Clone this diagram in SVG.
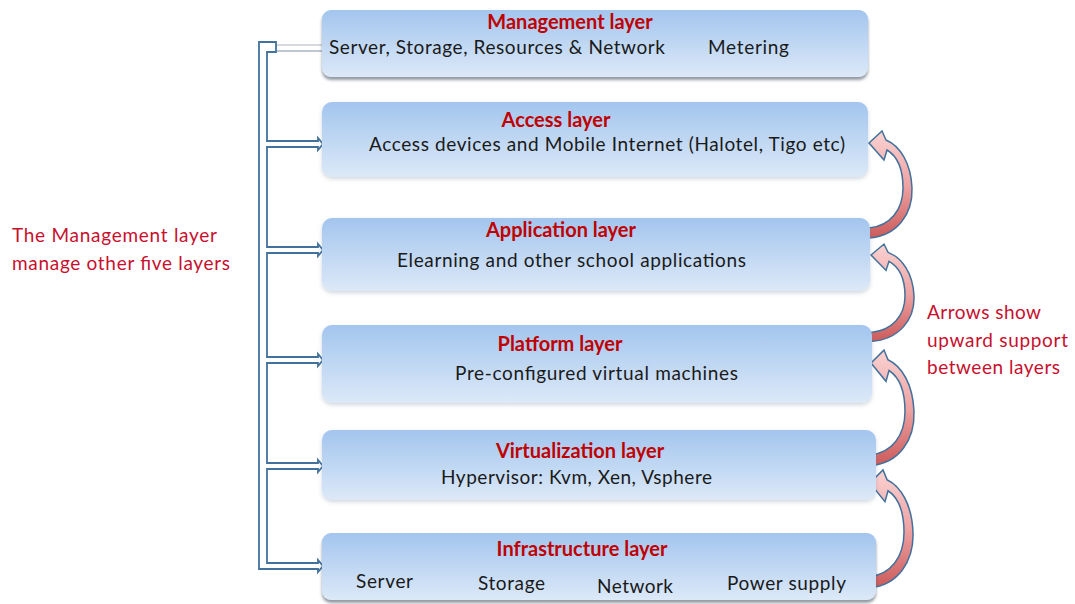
<svg xmlns="http://www.w3.org/2000/svg" width="1075" height="604" viewBox="0 0 1075 604">
<defs>
<linearGradient id="boxg" x1="0" y1="0" x2="0" y2="1">
<stop offset="0" stop-color="#a3c5ee"/>
<stop offset="1" stop-color="#dce9f8"/>
</linearGradient>
<linearGradient id="arrg" x1="0" y1="0" x2="0" y2="1">
<stop offset="0" stop-color="#fbd2d2"/>
<stop offset="0.5" stop-color="#eea3a3"/>
<stop offset="1" stop-color="#cc5a5a"/>
</linearGradient>
<filter id="sh" x="-5%" y="-10%" width="110%" height="130%">
<feDropShadow dx="0" dy="2" stdDeviation="2" flood-color="#6a7a90" flood-opacity="0.3"/>
</filter>
<filter id="sh2" x="-5%" y="-10%" width="110%" height="130%">
<feDropShadow dx="0" dy="3" stdDeviation="1.5" flood-color="#4a5566" flood-opacity="0.6"/>
</filter>
<path id="curv" d="M 0 95 C 28 93, 44 71, 43 45 C 42 20, 31 3, 17 -3 L 13 -12 L 0 0 L 15 17 L 18 7 C 28 13, 34 25, 34 45 C 34 67, 21 83, 0 85 Z"/>
</defs>
<style>
.box{fill:url(#boxg);}
.t{font-family:Lato,"Open Sans",sans-serif;font-weight:bold;font-size:20px;fill:#c00000;text-anchor:middle;}
.b{font-family:Lato,"Open Sans",sans-serif;font-size:19px;fill:#1a1a1a;}
.r{font-family:Lato,"Open Sans",sans-serif;font-size:19px;fill:#c8102e;}
.ca{fill:url(#arrg);stroke:#41719c;stroke-width:1.5;vector-effect:non-scaling-stroke;}
</style>
<rect width="1075" height="604" fill="#ffffff"/>

<g id="connectors">
<path d="M 259 569 L 259 42 L 276 42 L 276 52 L 267 52 L 267 141 L 318 141 L 318 138 L 323 144 L 318 150 L 318 147 L 267 147 L 267 247 L 318 247 L 318 244 L 323 250 L 318 256 L 318 253 L 267 253 L 267 357 L 318 357 L 318 354 L 323 360 L 318 366 L 318 363 L 267 363 L 267 463 L 318 463 L 318 460 L 323 466 L 318 472 L 318 469 L 267 469 L 267 563 L 318 563 L 318 560 L 323 566 L 318 572 L 318 569 Z" fill="#ffffff" stroke="#41719c" stroke-width="1.8" stroke-linejoin="miter"/>
<line x1="277" y1="45" x2="324" y2="45" stroke="#c9cdd2" stroke-width="1.5"/>
<line x1="277" y1="51" x2="324" y2="51" stroke="#aab4c0" stroke-width="1.5"/>
<use href="#curv" class="ca" transform="translate(869,143)"/>
<use href="#curv" class="ca" transform="translate(871,255) scale(1,0.91)"/>
<use href="#curv" class="ca" transform="translate(871,363) scale(1,1.08)"/>
<use href="#curv" class="ca" transform="translate(870,483) scale(1,1.1)"/>
</g>

<g id="management">
<rect class="box" x="322" y="10" width="546" height="67" rx="9" filter="url(#sh2)"/>
<text class="t" x="570" y="29">Management layer</text>
<text class="b" x="329" y="54" textLength="336">Server, Storage, Resources &amp; Network</text>
<text class="b" x="708" y="54" textLength="81">Metering</text>
</g>

<g id="access">
<rect class="box" x="322" y="102" width="546" height="75" rx="10" filter="url(#sh)"/>
<text class="t" x="556" y="127">Access layer</text>
<text class="b" x="369" y="151" textLength="476">Access devices and Mobile Internet (Halotel, Tigo etc)</text>
</g>

<g id="application">
<rect class="box" x="322" y="218" width="548" height="73" rx="10" filter="url(#sh)"/>
<text class="t" x="561" y="237">Application layer</text>
<text class="b" x="397" y="267" textLength="349">Elearning and other school applications</text>
</g>

<g id="platform">
<rect class="box" x="322" y="325" width="550" height="78" rx="10" filter="url(#sh)"/>
<text class="t" x="560" y="351">Platform layer</text>
<text class="b" x="455" y="380" textLength="283">Pre-configured virtual machines</text>
</g>

<g id="virtualization">
<rect class="box" x="322" y="430" width="554" height="70" rx="10" filter="url(#sh)"/>
<text class="t" x="580" y="458">Virtualization layer</text>
<text class="b" x="441" y="484" textLength="271">Hypervisor: Kvm, Xen, Vsphere</text>
</g>

<g id="infrastructure">
<rect class="box" x="322" y="533" width="554" height="67" rx="9" filter="url(#sh2)"/>
<text class="t" x="582" y="556">Infrastructure layer</text>
<text class="b" x="356" y="588" textLength="57">Server</text>
<text class="b" x="478" y="590" textLength="67">Storage</text>
<text class="b" x="597" y="593" textLength="76">Network</text>
<text class="b" x="727" y="590" textLength="119">Power supply</text>
</g>

<g id="note-left">
<text class="r" x="12" y="242" textLength="205">The Management layer</text>
<text class="r" x="12" y="270" textLength="218">manage other five layers</text>
</g>

<g id="note-right">
<text class="r" x="927" y="319" textLength="114">Arrows show</text>
<text class="r" x="927" y="347" textLength="141">upward support</text>
<text class="r" x="927" y="374" textLength="133">between layers</text>
</g>
</svg>
